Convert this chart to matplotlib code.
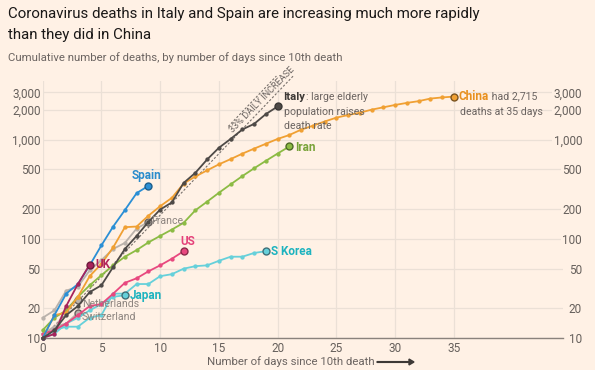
import numpy as np
import matplotlib
matplotlib.use("Agg")
import matplotlib.pyplot as plt

# ---------------- data (cumulative deaths, day 0 = 10th death) ----------------
italy = [10, 12, 17, 21, 29, 34, 52, 79, 107, 148, 197, 233, 366, 463, 631, 827,
         1016, 1266, 1441, 1809, 2158]
spain = [10, 17, 28, 35, 54, 86, 133, 195, 289, 342]
china = [10, 17, 18, 26, 42, 56, 82, 131, 133, 171, 213, 259, 361, 425, 490, 563,
         636, 722, 811, 908, 1016, 1113, 1260, 1380, 1523, 1665, 1770, 1868, 2004,
         2118, 2236, 2345, 2442, 2592, 2663, 2715]
iran = [12, 16, 19, 26, 34, 43, 54, 66, 77, 92, 107, 124, 145, 194, 237, 291, 354,
        429, 514, 611, 724, 853]
uk = [10, 11, 21, 35, 55]
us = [11, 12, 14, 17, 21, 22, 28, 36, 40, 47, 54, 63, 75]
s_korea = [10, 12, 13, 13, 16, 17, 28, 28, 35, 35, 42, 44, 50, 53, 54, 60, 66, 66,
           72, 75]
japan = [10, 11, 14, 16, 19, 22, 26, 27]
france = [16, 19, 30, 33, 48, 61, 79, 91, 127, 148]
netherlands = [10, 12, 20, 24]
switzerland = [11, 13, 14, 18]
daily_growth = 1.33

y_ticks = [10, 20, 50, 100, 200, 500, 1000, 2000, 3000]
y_tick_labels = ["10", "20", "50", "100", "200", "500", "1,000", "2,000", "3,000"]
x_ticks = [0, 5, 10, 15, 20, 25, 30, 35]

# ---------------- style ----------------
BG = "#fff1e5"
GRID = "#ebe0d6"
TXT = "#66605c"
FONT = ["Roboto", "DejaVu Sans"]
plt.rcParams["font.family"] = FONT

fig = plt.figure(figsize=(5.95, 3.70), dpi=100, facecolor=BG)
ax = fig.add_axes([42.7 / 595, 1 - 338 / 370, (563 - 42.7) / 595, (338 - 81) / 370])
ax.set_facecolor(BG)
ax.set_yscale("log")
ax.set_xlim(0, 44.3)
ax.set_ylim(10, 3900)

ax.set_yticks(y_ticks)
ax.set_yticklabels(y_tick_labels)
ax.yaxis.set_minor_locator(matplotlib.ticker.NullLocator())
ax.set_xticks(x_ticks)
ax.set_xticklabels([str(v) for v in x_ticks])
ax.tick_params(axis="y", length=0, pad=1.5, labelsize=8.5, labelcolor=TXT)
ax.tick_params(axis="x", length=0, pad=3, labelsize=8.5, labelcolor=TXT)
ax.grid(True, color=GRID, lw=0.9)
ax.set_axisbelow(True)
for s in ["top", "right", "left"]:
    ax.spines[s].set_visible(False)
ax.spines["bottom"].set_color("#8a827c")
ax.spines["bottom"].set_linewidth(1.0)

# right-side labels
ax2 = ax.twinx()
ax2.set_yscale("log")
ax2.set_ylim(ax.get_ylim())
ax2.set_yticks(y_ticks)
ax2.set_yticklabels(y_tick_labels)
ax2.yaxis.set_minor_locator(matplotlib.ticker.NullLocator())
ax2.tick_params(axis="y", length=0, pad=13.7, labelsize=8.5, labelcolor=TXT)
for lbl in ax2.get_yticklabels():
    lbl.set_horizontalalignment("right")
    lbl.set_bbox(dict(facecolor=BG, edgecolor="none", pad=1.2))
for s in ax2.spines.values():
    s.set_visible(False)

# ---------------- guide line: 33% daily increase ----------------
d_main = np.linspace(0, 21.4, 50)
ax.plot(d_main, 10 * daily_growth ** d_main, ls=(0, (2, 1.6)), color="#77706b",
        lw=0.8, clip_on=False, zorder=2)
d_up = np.linspace(15.8, 19.9, 20)
ax.plot(d_up, 15 * daily_growth ** d_up, ls=(0, (2, 1.6)), color="#77706b",
        lw=0.8, clip_on=False, zorder=2)
ax.text(18.7, 10 * daily_growth ** 18.7 * 1.22, "33% DAILY INCREASE", rotation=45.5,
        rotation_mode="anchor", ha="center", va="center", fontsize=6.6,
        color="#6b6461", clip_on=False, zorder=2)

# ---------------- series ----------------
def series(vals, color, z, edge=None, lw=1.3, ms=2.1, end_ms=5.0):
    d = np.arange(len(vals))
    ax.plot(d, vals, color=color, lw=lw, marker="o", ms=ms, mec=color, mfc=color,
            zorder=z, clip_on=False)
    ax.plot(d[-1:], vals[-1:], marker="o", ms=end_ms, mfc=color,
            mec=edge if edge else color, mew=1.0, zorder=z + 0.5, clip_on=False)
    return d[-1], vals[-1]

GRAYL = "#bab2ab"
e_fr = series(france, GRAYL, 3, edge="#6b6461")
e_nl = series(netherlands, GRAYL, 3, edge="#6b6461")
e_ch = series(switzerland, GRAYL, 3, edge="#6b6461")
e_jp = series(japan, "#66d0da", 4, edge="#3f6f78")
e_kr = series(s_korea, "#66d0da", 4, edge="#3f6f78")
e_us = series(us, "#e8487f", 5, edge="#8a2a4a")
e_ir = series(iran, "#8cbb44", 5, edge="#4d6a26")
e_cn = series(china, "#f0a033", 6, edge="#7a5320")
e_es = series(spain, "#2b8fd5", 7, edge="#1d5e8c")
e_uk = series(uk, "#a8235b", 7, edge="#6e1a3c")
e_it = series(italy, "#4e4a47", 8, edge="#3a3735")

# ---------------- labels ----------------
PX = 0.72  # points per pixel
LB = 8.5   # bold country names
LS = 7.6   # grey notes

def lab(xy, text, dx, dy, color, bold=True, ha="left", size=None):
    if size is None:
        size = LB if bold else LS
    return ax.annotate(text, xy=xy, xytext=(dx * PX, dy * PX), textcoords="offset points",
                       ha=ha, va="center", fontsize=size, color=color,
                       fontweight="bold" if bold else "normal", zorder=10)

GRAYT = "#6b6461"
t_it = lab(e_it, "Italy", 6, 9, "#3d3936", size=8.2)
ax.annotate(": large elderly", xy=(1, 0.5), xycoords=t_it, va="center", ha="left",
            fontsize=LS, color=GRAYT, zorder=10)
lab(e_it, "population raises", 6, -6, GRAYT, bold=False)
lab(e_it, "death rate", 6, -20, GRAYT, bold=False)

t_cn = lab(e_cn, "China", 5, 0, "#e8901e")
ax.annotate(" had 2,715", xy=(1, 0.5), xycoords=t_cn, va="center", ha="left",
            fontsize=LS, color=GRAYT, zorder=10)
lab(e_cn, "deaths at 35 days", 6, -15, GRAYT, bold=False)

lab(e_ir, "Iran", 6, -1, "#79a33a")
lab(e_es, "Spain", -2, 10, "#2b8ccc", ha="center")
lab(e_fr, "France", 3, 1, "#8c847f", bold=False)
lab(e_us, "US", 4, 10, "#e5417a", ha="center")
lab(e_kr, "S Korea", 5, 0, "#1db3bf")
lab(e_uk, "UK", 6, 0, "#b2245a")
lab(e_jp, "Japan", 5, 0, "#1db3bf")
lab(e_nl, "Netherlands", 4, -4, "#8c847f", bold=False)
lab(e_ch, "Switzerland", 4, -4, "#8c847f", bold=False)

# ---------------- titles ----------------
fig.text(8 / 595, 1 - 14 / 370, "Coronavirus deaths in Italy and Spain are increasing much more rapidly",
         fontsize=10.8, color="#1a1817", ha="left", va="center")
fig.text(8 / 595, 1 - 35 / 370, "than they did in China",
         fontsize=10.8, color="#1a1817", ha="left", va="center")
fig.text(8 / 595, 1 - 58 / 370, "Cumulative number of deaths, by number of days since 10th death",
         fontsize=8.2, color=GRAYT, ha="left", va="center")

fig.text(207 / 595, 1 - 362 / 370, "Number of days since 10th death",
         fontsize=8.2, color=GRAYT, ha="left", va="center")
fig.patches.append(matplotlib.patches.FancyArrow(
    377 / 595, 1 - 362 / 370, 37 / 595, 0, width=0.002, head_width=0.016,
    head_length=5 / 595, length_includes_head=True, color="#3d3936",
    transform=fig.transFigure, figure=fig))

fig.savefig("out.png", dpi=100, facecolor=BG)
